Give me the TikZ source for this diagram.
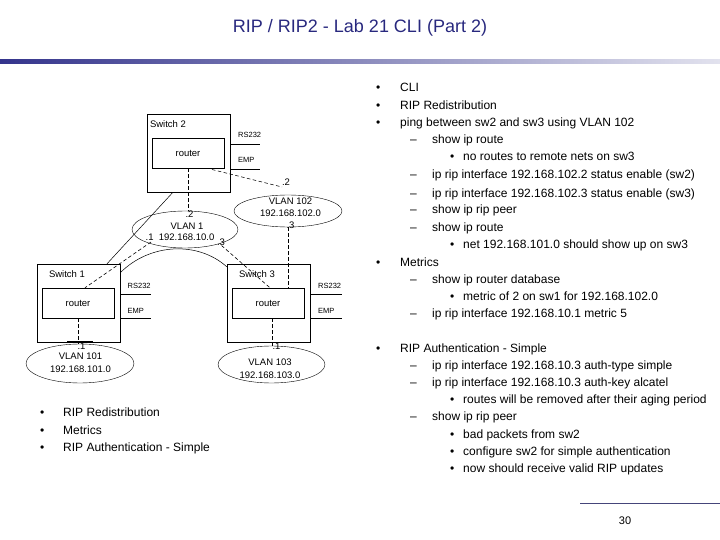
\documentclass[tikz,border=0pt]{standalone}
\usepackage{fontspec}
\setmainfont{Liberation Sans}
\usetikzlibrary{shapes.geometric}
\definecolor{titleblue}{HTML}{28287E}
\definecolor{barleft}{HTML}{34348C}
\definecolor{barright}{HTML}{E2E2EE}
\definecolor{footline}{HTML}{45457A}
\begin{document}
\begin{tikzpicture}[x=1pt,y=-1pt,
  sw/.style={draw, minimum width=83pt, minimum height=78pt, inner sep=0},
  rt/.style={draw, minimum width=72pt, minimum height=30pt, inner sep=0, font=\fontsize{9.5}{11}\selectfont},
  vl/.style={draw, ellipse, inner sep=0},
  lbl/.style={font=\fontsize{9.5}{11}\selectfont, inner sep=0},
  sm/.style={font=\fontsize{7.5}{9}\selectfont, inner sep=0, anchor=west},
  bt/.style={font=\fontsize{12}{14}\selectfont, inner sep=0, anchor=base west},
  link/.style={line width=0.5pt},
  dlink/.style={line width=0.6pt, dash pattern=on 3.5pt off 2.5pt}]
\useasboundingbox (0,0) rectangle (720,540);

% title and header bar
\node[font=\fontsize{18}{22}\selectfont, text=titleblue, inner sep=0] (title) at (360,28) {RIP / RIP2 - Lab 21 CLI (Part 2)};
\shade[left color=barleft, right color=barright] (0,60) rectangle (720,64);

% switches and routers
\node[sw] (s2) at (188.5,153) {};
\node[rt] (r2) at (188,153) {router};
\node[lbl] (s2l) at (168,124) {Switch 2};
\node[sw] (s1) at (78.5,303) {};
\node[rt] (r1) at (78,303) {router};
\node[lbl] (s1l) at (67,274) {Switch 1};
\node[sw] (s3) at (268.5,303) {};
\node[rt] (r3) at (268,303) {router};
\node[lbl] (s3l) at (257,274) {Switch 3};

% RS232 / EMP stubs
\draw[link] ([yshift=-30pt]s2.north east) -- ++(30,0) coordinate (s2rs);
\draw[link] ([yshift=-55pt]s2.north east) -- ++(30,0) coordinate (s2emp);
\node[sm] (s2rsl) at (238,135) {RS232};
\node[sm] (s2empl) at (238,160) {EMP};
\draw[link] ([yshift=-30pt]s1.north east) -- ++(31,0) coordinate (s1rs);
\draw[link] ([yshift=-54pt]s1.north east) -- ++(31,0) coordinate (s1emp);
\node[sm] (s1rsl) at (127.5,285.5) {RS232};
\node[sm] (s1empl) at (127.5,310.5) {EMP};
\draw[link] ([yshift=-30pt]s3.north east) -- ++(32,0) coordinate (s3rs);
\draw[link] ([yshift=-54pt]s3.north east) -- ++(32,0) coordinate (s3emp);
\node[sm] (s3rsl) at (318,285.5) {RS232};
\node[sm] (s3empl) at (318,310.5) {EMP};

% VLAN ellipses
\node[vl, minimum width=106pt, minimum height=37pt] (v1) at (185,229.5) {};
\node[lbl] (v1a) at (189.5,214.5) {.2};
\node[lbl] (v1b) at (187,226.5) {VLAN 1};
\node[lbl] (v1c) at (180,237.5) {.1\ \ 192.168.10.0};
\node[lbl] (v1d) at (221,242) {.3};

\node[vl, minimum width=108pt, minimum height=32pt] (v102) at (288,211) {};
\node[lbl] (v102a) at (286,182.5) {.2};
\node[lbl] (v102b) at (290.5,201) {VLAN 102};
\node[lbl] (v102c) at (290.5,213.5) {192.168.102.0};
\node[lbl] (v102d) at (290.5,225.5) {.3};

\node[vl, minimum width=108pt, minimum height=39pt] (v101) at (80,363.5) {};
\node[lbl] (v101a) at (81.5,346.5) {.1};
\node[lbl] (v101b) at (80.5,356.5) {VLAN 101};
\node[lbl] (v101c) at (80.5,369.5) {192.168.101.0};

\node[vl, minimum width=107pt, minimum height=37pt] (v103) at (271.5,364.5) {};
\node[lbl] (v103a) at (276.5,346.5) {.1};
\node[lbl] (v103b) at (270,362.5) {VLAN 103};
\node[lbl] (v103c) at (270,375.5) {192.168.103.0};

% connectors
\draw[dlink] (r2.south) -- (r2.south |- v1.north);
\coordinate (r2o) at (212,169.5);
\coordinate (v102in) at (282,187);
\draw[dlink] (r2o) -- (v102in);
\draw[dlink] (v102.south) -- (v102.south |- r3.north);
\draw[link] ([xshift=-15.5pt]s2.south) -- ([xshift=28.5pt]s1.north);
\coordinate (v1w) at (151,242);
\draw[dlink] (v1w) -- ([xshift=7pt]r1.north);
\coordinate (v1e) at (221.5,245.5);
\draw[dlink] (v1e) -- ([xshift=2pt]r3.north);
\draw[link] ([yshift=-9pt]s1.north east) .. controls (150,243) and (198,241) .. ([yshift=-3pt]s3.north west);
\draw[dlink] (r1.south) -- (r1.south |- v101.north);
\draw[dlink] ([xshift=4.5pt]r3.south) -- ([xshift=4.5pt]r3.south |- v103.north);
\draw[line width=1.5pt] ([xshift=-11.5pt]s1.south) -- ([xshift=14.5pt]s1.south);

% left bullet list
\node[bt] (lb1) at (40,416) {•};
\node[bt] (lt1) at (63,416) {RIP Redistribution};
\node[bt] (lb2) at (40,434) {•};
\node[bt] (lt2) at (63,434) {Metrics};
\node[bt] (lb3) at (40,451) {•};
\node[bt] (lt3) at (63,451) {RIP Authentication - Simple};

% right list
\node[bt] (b1) at (376,92) {•};
\node[bt] (t1) at (400,92) {CLI};
\node[bt] (b2) at (376,110) {•};
\node[bt] (t2) at (400,110) {RIP Redistribution};
\node[bt] (b3) at (376,127) {•};
\node[bt] (t3) at (400,127) {ping between sw2 and sw3 using VLAN 102};
\node[bt] (d4) at (410,144) {–};
\node[bt] (t4) at (432,144) {show ip route};
\node[bt] (b5) at (450,161) {•};
\node[bt] (t5) at (463,161) {no routes to remote nets on sw3};
\node[bt] (d6) at (410,179) {–};
\node[bt] (t6) at (432,179) {ip rip interface 192.168.102.2 status enable (sw2)};
\node[bt] (d7) at (410,197) {–};
\node[bt] (t7) at (432,197) {ip rip interface 192.168.102.3 status enable (sw3)};
\node[bt] (d8) at (410,214) {–};
\node[bt] (t8) at (432,214) {show ip rip peer};
\node[bt] (d9) at (410,231) {–};
\node[bt] (t9) at (432,231) {show ip route};
\node[bt] (b10) at (450,248) {•};
\node[bt] (t10) at (463,248) {net 192.168.101.0 should show up on sw3};
\node[bt] (b11) at (376,266) {•};
\node[bt] (t11) at (400,266) {Metrics};
\node[bt] (d12) at (410,283) {–};
\node[bt] (t12) at (432,283) {show ip router database};
\node[bt] (b13) at (450,300) {•};
\node[bt] (t13) at (463,300) {metric of 2 on sw1 for 192.168.102.0};
\node[bt] (d14) at (410,317) {–};
\node[bt] (t14) at (432,317) {ip rip interface 192.168.10.1 metric 5};
\node[bt] (b15) at (376,352) {•};
\node[bt] (t15) at (400,352) {RIP Authentication - Simple};
\node[bt] (d16) at (410,369) {–};
\node[bt] (t16) at (432,369) {ip rip interface 192.168.10.3 auth-type simple};
\node[bt] (d17) at (410,386) {–};
\node[bt] (t17) at (432,386) {ip rip interface 192.168.10.3 auth-key alcatel};
\node[bt] (b18) at (450,403) {•};
\node[bt] (t18) at (463,403) {routes will be removed after their aging period};
\node[bt] (d19) at (410,420) {–};
\node[bt] (t19) at (432,420) {show ip rip peer};
\node[bt] (b20) at (450,438) {•};
\node[bt] (t20) at (463,438) {bad packets from sw2};
\node[bt] (b21) at (450,455) {•};
\node[bt] (t21) at (463,455) {configure sw2 for simple authentication};
\node[bt] (b22) at (450,472) {•};
\node[bt] (t22) at (463,472) {now should receive valid RIP updates};

% footer
\draw[footline, line width=0.8pt] (580,503) coordinate (fl) -- (720,503) coordinate (fr);
\node[font=\fontsize{11}{13}\selectfont, inner sep=0] (pg) at (625,521) {30};
\end{tikzpicture}
\end{document}
